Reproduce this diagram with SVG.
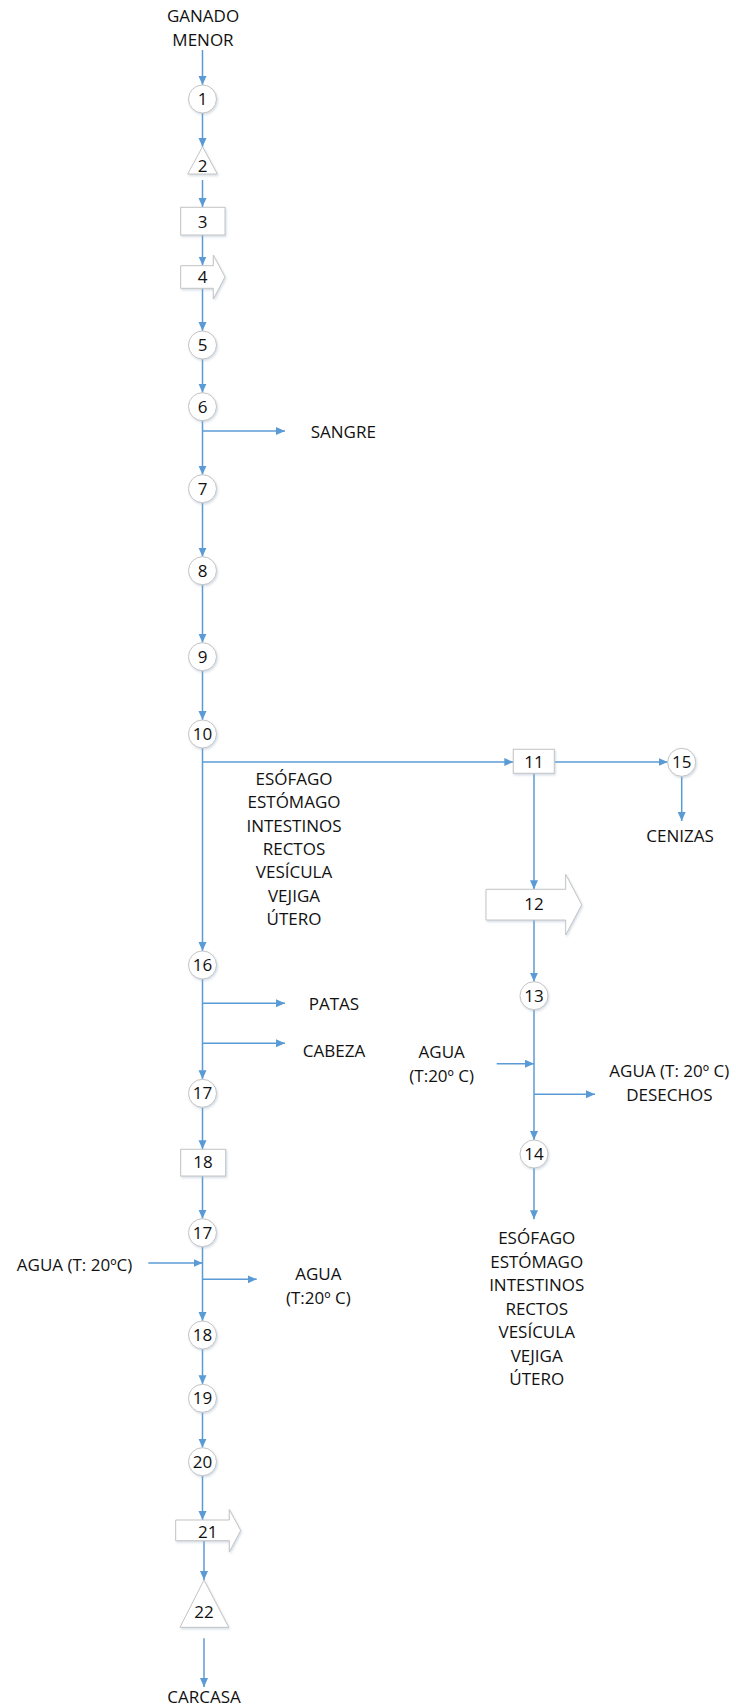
<svg xmlns="http://www.w3.org/2000/svg" width="736" height="1705" viewBox="0 0 736 1705">
<style>
text{font-family:"Open Sans","Liberation Sans",sans-serif;font-size:17px;fill:#111;text-anchor:middle}
.sh{fill:#fff;stroke:#c4c4c4;stroke-width:1;filter:url(#ds)}
.c line,.c path{stroke:#5b9bd5;stroke-width:1.5;fill:none;marker-end:url(#ah)}
</style>
<defs>
<marker id="ah" markerUnits="userSpaceOnUse" markerWidth="10" markerHeight="9" refX="9" refY="4" orient="auto"><path d="M0,0 L9,4 L0,8 z" fill="#5b9bd5"/></marker>
<filter id="ds" x="-20%" y="-20%" width="150%" height="150%"><feDropShadow dx="1" dy="1.5" stdDeviation="1" flood-color="#9fb3c8" flood-opacity="0.45"/></filter>
</defs>
<g class="c" id="connectors">
<line x1="202.5" y1="50" x2="202.5" y2="85"/>
<line x1="202.5" y1="113" x2="202.5" y2="147"/>
<line x1="202.5" y1="180" x2="202.5" y2="207"/>
<line x1="202.5" y1="235" x2="202.5" y2="265.5"/>
<line x1="202.5" y1="288.3" x2="202.5" y2="331"/>
<line x1="202.5" y1="359" x2="202.5" y2="392.7"/>
<line x1="202.5" y1="431" x2="285" y2="431"/>
<line x1="202.5" y1="420.7" x2="202.5" y2="474.7"/>
<line x1="202.5" y1="502.7" x2="202.5" y2="556.7"/>
<line x1="202.5" y1="584.7" x2="202.5" y2="642.7"/>
<line x1="202.5" y1="670.7" x2="202.5" y2="720"/>
<line x1="202.5" y1="748" x2="202.5" y2="951"/>
<line x1="202.5" y1="762" x2="513.3" y2="762"/>
<line x1="554.3" y1="762" x2="667.7" y2="762"/>
<line x1="681.7" y1="776.3" x2="681.7" y2="821"/>
<line x1="534" y1="773.3" x2="534" y2="889.3"/>
<line x1="534" y1="920" x2="534" y2="981.7"/>
<line x1="534" y1="1009.7" x2="534" y2="1140"/>
<line x1="496.7" y1="1063.7" x2="534" y2="1063.7"/>
<line x1="534" y1="1094.3" x2="595" y2="1094.3"/>
<line x1="534" y1="1168" x2="534" y2="1219.3"/>
<line x1="202.5" y1="979" x2="202.5" y2="1079.3"/>
<line x1="202.5" y1="1003.3" x2="285" y2="1003.3"/>
<line x1="202.5" y1="1043.3" x2="285" y2="1043.3"/>
<line x1="202.5" y1="1107.3" x2="202.5" y2="1149.3"/>
<line x1="202.5" y1="1176" x2="202.5" y2="1218.7"/>
<line x1="148.3" y1="1263" x2="202.5" y2="1263"/>
<line x1="202.5" y1="1279.3" x2="256.7" y2="1279.3"/>
<line x1="202.5" y1="1246.7" x2="202.5" y2="1321"/>
<line x1="202.5" y1="1349" x2="202.5" y2="1384.3"/>
<line x1="202.5" y1="1412.3" x2="202.5" y2="1447.7"/>
<line x1="202.5" y1="1475.7" x2="202.5" y2="1520"/>
<line x1="204" y1="1540.7" x2="204" y2="1580"/>
<line x1="204" y1="1638.3" x2="204" y2="1687"/>
</g>
<g id="n-ganado"><text x="203" y="21.7">GANADO</text><text x="203" y="45.7">MENOR</text></g>
<g id="n1"><circle class="sh" cx="202.5" cy="99" r="14"/><text x="202.5" y="105">1</text></g>
<g id="n2"><path class="sh" d="M202.5,146.7 L217.3,174 L187.7,174 z"/><text x="202.5" y="171.7">2</text></g>
<g id="n3"><rect class="sh" x="180.7" y="207.3" width="44.3" height="27.7"/><text x="202.5" y="228.3">3</text></g>
<g id="n4"><path class="sh" d="M180.7,265.7 L213.3,265.7 L213.3,255 L225,277 L213.3,299 L213.3,288.3 L180.7,288.3 z"/><text x="202.5" y="283">4</text></g>
<g id="n5"><circle class="sh" cx="202.5" cy="345" r="14"/><text x="202.5" y="351">5</text></g>
<g id="n6"><circle class="sh" cx="202.5" cy="406.7" r="14"/><text x="202.5" y="412.7">6</text></g>
<g id="t-sangre"><text x="343.3" y="437.5">SANGRE</text></g>
<g id="n7"><circle class="sh" cx="202.5" cy="488.7" r="14"/><text x="202.5" y="494.7">7</text></g>
<g id="n8"><circle class="sh" cx="202.5" cy="570.7" r="14"/><text x="202.5" y="576.7">8</text></g>
<g id="n9"><circle class="sh" cx="202.5" cy="656.7" r="14"/><text x="202.5" y="662.7">9</text></g>
<g id="n10"><circle class="sh" cx="202.5" cy="734" r="14"/><text x="202.5" y="740">10</text></g>
<g id="t-organos1"><text x="294" y="785">ESÓFAGO</text><text x="294" y="808.3">ESTÓMAGO</text><text x="294" y="831.7">INTESTINOS</text><text x="294" y="855">RECTOS</text><text x="294" y="878.3">VESÍCULA</text><text x="294" y="901.7">VEJIGA</text><text x="294" y="925">ÚTERO</text></g>
<g id="n11"><rect class="sh" x="513.3" y="749.3" width="41" height="24"/><text x="534" y="768.3">11</text></g>
<g id="n15"><circle class="sh" cx="681.7" cy="762.3" r="14"/><text x="681.7" y="768.3">15</text></g>
<g id="t-cenizas"><text x="680" y="842.3">CENIZAS</text></g>
<g id="n12"><path class="sh" d="M486,889.3 L565.7,889.3 L565.7,874.3 L581.7,904.7 L565.7,935 L565.7,920 L486,920 z"/><text x="534" y="910">12</text></g>
<g id="n13"><circle class="sh" cx="534" cy="995.7" r="14"/><text x="534" y="1001.7">13</text></g>
<g id="t-agua-r-in"><text x="441.7" y="1057.7">AGUA</text><text x="441.7" y="1081.7">(T:20º C)</text></g>
<g id="t-agua-r-out"><text x="669.3" y="1076.7">AGUA (T: 20º C)</text><text x="669.3" y="1100.7">DESECHOS</text></g>
<g id="n14"><circle class="sh" cx="534" cy="1154" r="14"/><text x="534" y="1160">14</text></g>
<g id="t-organos2"><text x="536.7" y="1244">ESÓFAGO</text><text x="536.7" y="1268.3">ESTÓMAGO</text><text x="536.7" y="1291.3">INTESTINOS</text><text x="536.7" y="1314.7">RECTOS</text><text x="536.7" y="1338.3">VESÍCULA</text><text x="536.7" y="1361.7">VEJIGA</text><text x="536.7" y="1385">ÚTERO</text></g>
<g id="n16"><circle class="sh" cx="202.5" cy="965" r="14"/><text x="202.5" y="971">16</text></g>
<g id="t-patas"><text x="334" y="1010">PATAS</text></g>
<g id="t-cabeza"><text x="334" y="1056.7">CABEZA</text></g>
<g id="n17"><circle class="sh" cx="202.5" cy="1093.3" r="14"/><text x="202.5" y="1099.3">17</text></g>
<g id="n18"><rect class="sh" x="180.7" y="1149.3" width="45" height="26.7"/><text x="203" y="1168.3">18</text></g>
<g id="n17b"><circle class="sh" cx="202.5" cy="1232.7" r="14"/><text x="202.5" y="1238.7">17</text></g>
<g id="t-agua-l-in"><text x="74.5" y="1270.7">AGUA (T: 20ºC)</text></g>
<g id="t-agua-l-out"><text x="318.3" y="1280">AGUA</text><text x="318.3" y="1304">(T:20º C)</text></g>
<g id="n18b"><circle class="sh" cx="202.5" cy="1335" r="14"/><text x="202.5" y="1341">18</text></g>
<g id="n19"><circle class="sh" cx="202.5" cy="1398.3" r="14"/><text x="202.5" y="1404.3">19</text></g>
<g id="n20"><circle class="sh" cx="202.5" cy="1461.7" r="14"/><text x="202.5" y="1467.7">20</text></g>
<g id="n21"><path class="sh" d="M175.7,1520 L229.3,1520 L229.3,1509.5 L240.7,1530.5 L229.3,1552 L229.3,1540.7 L175.7,1540.7 z"/><text x="207.7" y="1537.7">21</text></g>
<g id="n22"><path class="sh" d="M204,1580 L228.7,1627.3 L180,1627.3 z"/><text x="204" y="1618.3">22</text></g>
<g id="t-carcasa"><text x="204" y="1703">CARCASA</text></g>
</svg>
